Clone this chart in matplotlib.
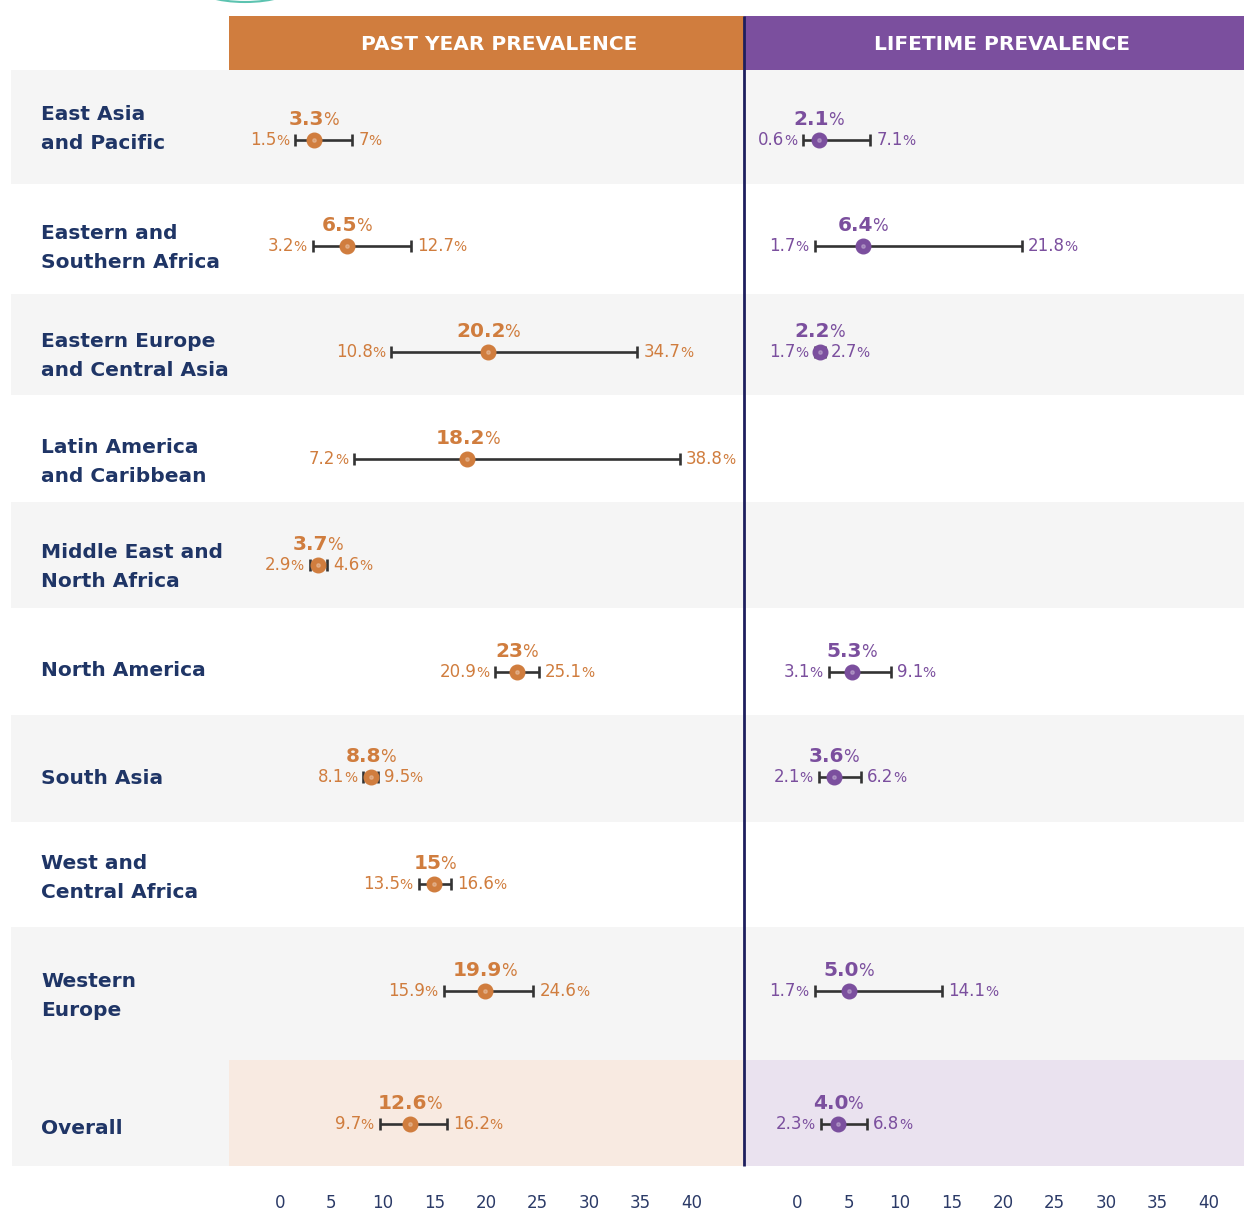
import matplotlib
matplotlib.use("Agg")
import matplotlib.pyplot as plt
from matplotlib.patches import Rectangle, Ellipse
from matplotlib.offsetbox import TextArea, HPacker, AnnotationBbox

plt.rcParams['font.family'] = ['DejaVu Sans']

# ---------------- data ----------------
regions = ["East Asia\nand Pacific", "Eastern and\nSouthern Africa", "Eastern Europe\nand Central Asia",
           "Latin America\nand Caribbean", "Middle East and\nNorth Africa", "North America",
           "South Asia", "West and\nCentral Africa", "Western\nEurope", "Overall"]
past_mid = ["3.3", "6.5", "20.2", "18.2", "3.7", "23", "8.8", "15", "19.9", "12.6"]
past_lo = ["1.5", "3.2", "10.8", "7.2", "2.9", "20.9", "8.1", "13.5", "15.9", "9.7"]
past_hi = ["7", "12.7", "34.7", "38.8", "4.6", "25.1", "9.5", "16.6", "24.6", "16.2"]
life_mid = ["2.1", "6.4", "2.2", None, None, "5.3", "3.6", None, "5.0", "4.0"]
life_lo = ["0.6", "1.7", "1.7", None, None, "3.1", "2.1", None, "1.7", "2.3"]
life_hi = ["7.1", "21.8", "2.7", None, None, "9.1", "6.2", None, "14.1", "6.8"]
tick_vals = [0, 5, 10, 15, 20, 25, 30, 35, 40]
headers = ["PAST YEAR PREVALENCE", "LIFETIME PREVALENCE"]

# ---------------- layout (pixel space) ----------------
W, H = 1244, 1211
band_edges = [70, 184, 294, 395, 502, 608, 715, 822, 927, 1060, 1166]
row_y = [140, 246, 352, 459, 565, 672, 777, 884, 991, 1124]
label_y = [129, 248, 356, 462, 567, 671, 779, 878, 996, 1129]
gray_rows = [0, 2, 4, 6, 8]

ORANGE = "#D07D3E"
PURPLE = "#7B4F9E"
NAVY = "#1F3566"
GRAY = "#F5F5F5"
BAR = "#333333"

fig = plt.figure(figsize=(W / 100, H / 100), dpi=100)
bg = fig.add_axes([0, 0, 1, 1])
bg.set_xlim(0, W)
bg.set_ylim(H, 0)
bg.axis("off")

for i in gray_rows:
    bg.add_patch(Rectangle((11, band_edges[i]), W - 11, band_edges[i + 1] - band_edges[i],
                           facecolor=GRAY, edgecolor="none"))
# overall row
bg.add_patch(Rectangle((12, 1060), 229 - 12, 106, facecolor=GRAY, edgecolor="none"))
bg.add_patch(Rectangle((229, 1060), 744 - 229, 106, facecolor="#F8EAE1", edgecolor="none"))
bg.add_patch(Rectangle((744, 1060), W - 744, 106, facecolor="#EAE2EF", edgecolor="none"))

# headers
bg.add_patch(Rectangle((229, 16), 744 - 229, 54, facecolor=ORANGE, edgecolor="none"))
bg.add_patch(Rectangle((744, 16), W - 744, 54, facecolor=PURPLE, edgecolor="none"))
bg.text(499, 45, headers[0], color="white", fontsize=14.5, fontweight="bold",
        ha="center", va="center")
bg.text(1002, 45, headers[1], color="white", fontsize=14.5, fontweight="bold",
        ha="center", va="center")

# partial logo at top
bg.add_patch(Ellipse((245, -14), 100, 32, facecolor="none", edgecolor="#5CC3B0", linewidth=1.5))

# row labels
for lab, ly in zip(regions, label_y):
    bg.text(41, ly, lab, color=NAVY, fontsize=14.5, fontweight="bold", ha="left", va="center",
            linespacing=1.65)

# divider
bg.plot([744, 744], [16, 1166], color="#1E1F5E", linewidth=2, solid_capstyle="butt", zorder=5)


def val_label(ax, x, y, num, color, kind):
    if kind == "mid":
        t1 = TextArea(num, textprops=dict(fontsize=14.5, fontweight="bold", color=color))
        t2 = TextArea("%", textprops=dict(fontsize=12, color=color))
        xybox, align, sep = (0, 15), (0.5, 0.5), -0.8
    else:
        t1 = TextArea(num, textprops=dict(fontsize=12, color=color))
        t2 = TextArea("%", textprops=dict(fontsize=10, color=color))
        sep = -0.5
        if kind == "lo":
            xybox, align = (-4.5, 0), (1.0, 0.5)
        else:
            xybox, align = (4.5, 0), (0.0, 0.5)
    box = HPacker(children=[t1, t2], align="baseline", pad=0, sep=sep)
    ab = AnnotationBbox(box, (x, y), xybox=xybox, xycoords="data", boxcoords="offset points",
                        box_alignment=align, frameon=False, pad=0, annotation_clip=False)
    ax.add_artist(ab)


def panel(rect_px, xlim, mids, los, his, color):
    x0, x1 = rect_px
    ax = fig.add_axes([x0 / W, (H - 1166) / H, (x1 - x0) / W, (1166 - 70) / H])
    ax.patch.set_alpha(0)
    ax.set_xlim(*xlim)
    ax.set_ylim(1166, 70)
    for s in ax.spines.values():
        s.set_visible(False)
    ax.set_yticks([])
    ax.set_xticks(tick_vals)
    ax.set_xticklabels([str(t) for t in tick_vals])
    ax.tick_params(axis="x", length=0, pad=20, labelsize=12, labelcolor="#2B3A67")
    for m, lo, hi, y in zip(mids, los, his, row_y):
        if m is None:
            continue
        mv, lv, hv = float(m), float(lo), float(hi)
        ax.errorbar([mv], [y], xerr=[[mv - lv], [hv - mv]], fmt="none", ecolor=BAR,
                    elinewidth=1.9, capsize=4.5, capthick=1.9, zorder=3)
        ax.plot([mv], [y], "o", color=color, markersize=10.5, zorder=4)
        ax.plot([mv], [y], "o", color="white", alpha=0.25, markersize=2.5, zorder=5)
        val_label(ax, mv, y, m, color, "mid")
        val_label(ax, lv, y, lo, color, "lo")
        val_label(ax, hv, y, hi, color, "hi")
    return ax


panel((229, 744), (-4.95, 45.05), past_mid, past_lo, past_hi, ORANGE)
panel((745, 1244), (-5.05, 43.4), life_mid, life_lo, life_hi, PURPLE)

fig.savefig("out.png", dpi=100)
